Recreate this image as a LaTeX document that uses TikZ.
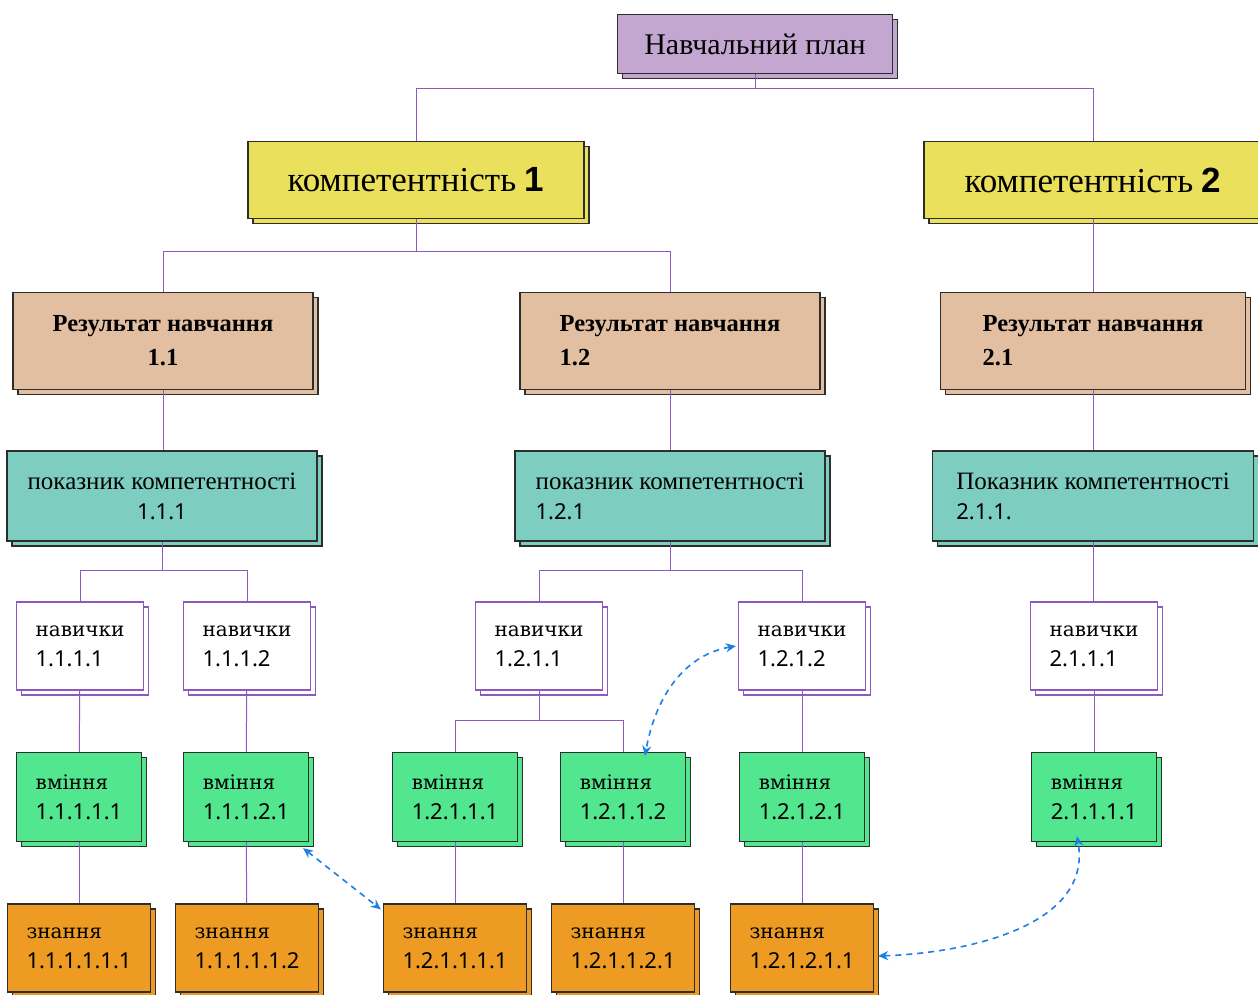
\documentclass[tikz,border=0pt]{standalone}
\usepackage{fontspec}
\setmainfont{Liberation Serif}
\newfontfamily\slabfont{DejaVu Serif}
\newfontfamily\numfont{Noto Sans}
\newfontfamily\compnum{Liberation Sans}
\usetikzlibrary{shadows,arrows.meta}
\definecolor{planlilac}{RGB}{196,167,209}
\definecolor{compyellow}{RGB}{235,224,92}
\definecolor{restan}{RGB}{226,191,161}
\definecolor{indteal}{RGB}{126,205,193}
\definecolor{abilgreen}{RGB}{82,230,142}
\definecolor{knoworange}{RGB}{237,155,35}
\definecolor{treeline}{RGB}{140,90,190}
\definecolor{boxedge}{RGB}{45,45,45}
\definecolor{linkblue}{RGB}{30,125,230}
\newcommand{\wordnum}[2]{{\slabfont #1}\\{\numfont\fontsize{22}{30}\selectfont #2}}

\begin{document}
\begin{tikzpicture}[x=1pt,y=-1pt,
    box/.style={rectangle, draw=boxedge, line width=1.3pt, inner sep=0pt, align=left,
        copy shadow={shadow xshift=5pt, shadow yshift=-5pt}},
    planbox/.style={box, fill=planlilac, minimum width=275pt, minimum height=59pt, font=\fontsize{30}{34}\selectfont},
    compbox/.style={box, fill=compyellow, line width=1.8pt, minimum height=77pt, font=\fontsize{35}{40}\selectfont},
    resbox/.style={box, fill=restan, minimum height=97pt, font=\fontsize{24.5}{34}\selectfont\bfseries},
    indbox/.style={box, fill=indteal, minimum height=90pt, font=\fontsize{25}{30}\selectfont},
    skillbox/.style={box, draw=treeline, fill=white, minimum width=127pt, minimum height=88pt, font=\fontsize{20}{30}\selectfont},
    abilbox/.style={box, fill=abilgreen, minimum width=125pt, minimum height=89pt, font=\fontsize{20}{30}\selectfont},
    knowbox/.style={box, fill=knoworange, minimum width=143pt, minimum height=88pt, font=\fontsize{20}{30}\selectfont},
    link/.style={draw=treeline, line width=1pt},
    assoc/.style={draw=linkblue, line width=1.6pt, dashed, dash pattern=on 6pt off 5pt,
        {Stealth[length=10pt,width=9pt]}-{Stealth[length=10pt,width=9pt]}}
]
\useasboundingbox (0,0) rectangle (1258,994);

% plan and competences
\node[planbox] (plan) at (755,44) {Навчальний план};
\node[compbox, minimum width=336pt] (comp1) at (416,180) {компетентність {\compnum\bfseries 1}};
\node[compbox, minimum width=338pt] (comp2) at (1093,180) {компетентність {\compnum\bfseries 2}};

% learning results
\node[resbox, minimum width=300pt, align=center] (res11) at (163,341) {Результат навчання\\1.1};
\node[resbox, minimum width=300pt] (res12) at (670,341) {Результат навчання\\1.2};
\node[resbox, minimum width=305pt] (res21) at (1093,341) {Результат навчання\\2.1};

% indicators
\node[indbox, minimum width=310pt, align=center] (ind111) at (162,496) {показник компетентності\\{\numfont\fontsize{22}{30}\selectfont 1.1.1}};
\node[indbox, minimum width=310pt] (ind121) at (670,496) {показник компетентності\\{\numfont\fontsize{22}{30}\selectfont 1.2.1}};
\node[indbox, minimum width=321pt] (ind211) at (1093,496) {Показник компетентності\\{\numfont\fontsize{22}{30}\selectfont 2.1.1.}};

% skills
\node[skillbox] (sk1111) at (80,646) {\wordnum{навички}{1.1.1.1}};
\node[skillbox] (sk1112) at (247,646) {\wordnum{навички}{1.1.1.2}};
\node[skillbox] (sk1211) at (539,646) {\wordnum{навички}{1.2.1.1}};
\node[skillbox] (sk1212) at (802,646) {\wordnum{навички}{1.2.1.2}};
\node[skillbox] (sk2111) at (1094,646) {\wordnum{навички}{2.1.1.1}};

% abilities
\node[abilbox] (ab11111) at (79,797) {\wordnum{вміння}{1.1.1.1.1}};
\node[abilbox] (ab11121) at (246,797) {\wordnum{вміння}{1.1.1.2.1}};
\node[abilbox] (ab12111) at (455,797) {\wordnum{вміння}{1.2.1.1.1}};
\node[abilbox] (ab12112) at (623,797) {\wordnum{вміння}{1.2.1.1.2}};
\node[abilbox] (ab12121) at (802,797) {\wordnum{вміння}{1.2.1.2.1}};
\node[abilbox] (ab21111) at (1094,797) {\wordnum{вміння}{2.1.1.1.1}};

% knowledge
\node[knowbox] (kn111111) at (79,948) {\wordnum{знання}{1.1.1.1.1.1}};
\node[knowbox] (kn111112) at (247,948) {\wordnum{знання}{1.1.1.1.1.2}};
\node[knowbox] (kn121111) at (455,948) {\wordnum{знання}{1.2.1.1.1.1}};
\node[knowbox] (kn121121) at (623,948) {\wordnum{знання}{1.2.1.1.2.1}};
\node[knowbox] (kn121211) at (802,948) {\wordnum{знання}{1.2.1.2.1.1}};

% tree lines
\draw[link] (plan.south) -- ++(0,14) -| (comp1.north);
\draw[link] (plan.south) -- ++(0,14) -| (comp2.north);
\draw[link] (comp1.south) -- ++(0,32) -| (res11.north);
\draw[link] (comp1.south) -- ++(0,32) -| (res12.north);
\draw[link] (comp2) -- (res21);
\draw[link] (res11.south) -- (ind111.north -| res11.south);
\draw[link] (res12) -- (ind121);
\draw[link] (res21) -- (ind211);
\draw[link] (ind111.south) -- ++(0,29) -| (sk1111.north);
\draw[link] (ind111.south) -- ++(0,29) -| (sk1112.north);
\draw[link] (ind121.south) -- ++(0,29) -| (sk1211.north);
\draw[link] (ind121.south) -- ++(0,29) -| (sk1212.north);
\draw[link] (ind211.south) -- (sk2111.north -| ind211.south);
\draw[link] (sk1111) -- (ab11111);
\draw[link] (sk1112) -- (ab11121);
\draw[link] (sk1211.south) -- ++(0,30) -| (ab12111.north);
\draw[link] (sk1211.south) -- ++(0,30) -| (ab12112.north);
\draw[link] (sk1212) -- (ab12121);
\draw[link] (sk2111) -- (ab21111);
\draw[link] (ab11111) -- (kn111111);
\draw[link] (ab11121) -- (kn111112);
\draw[link] (ab12111) -- (kn121111);
\draw[link] (ab12112) -- (kn121121);
\draw[link] (ab12121) -- (kn121211);

% cross links
\draw[assoc] ([shift={(-6,6)}]ab11121.south east) -- ([shift={(-2,6)}]kn121111.north west);
\draw[assoc] ([xshift=-2pt]sk1212.west) to[out=190, in=80] ([xshift=22pt,yshift=-4pt]ab12112.north);
\draw[assoc] ([xshift=4pt,yshift=-8pt]kn121211.east) to[out=2, in=-80] ([xshift=-17pt,yshift=6pt]ab21111.south);
\end{tikzpicture}
\end{document}
